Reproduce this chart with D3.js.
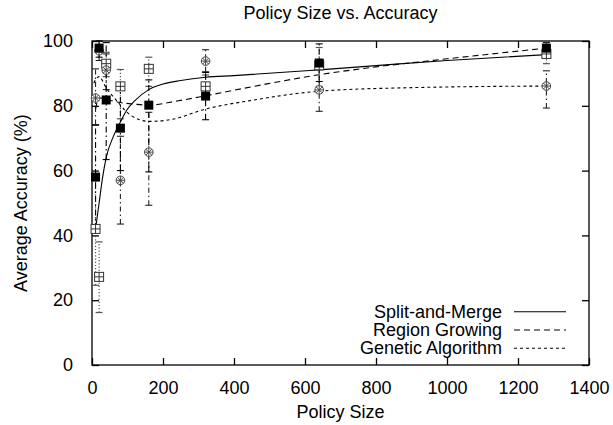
<!DOCTYPE html>
<html><head><meta charset="utf-8">
<script src="https://cdn.jsdelivr.net/npm/d3@7"></script>
<style>
html,body{margin:0;padding:0;background:#fff;}
text{font-family:"Liberation Sans",Arial,Helvetica,sans-serif;fill:#000;}
</style></head>
<body>
<svg id="chart" width="613" height="425"></svg>
<script>
// ---------- data ----------
const title = "Policy Size vs. Accuracy";
const xLabel = "Policy Size";
const yLabel = "Average Accuracy (%)";
const xTicks = [0, 200, 400, 600, 800, 1000, 1200, 1400];
const yTicks = [0, 20, 40, 60, 80, 100];
const policySizes = [10, 20, 40, 80, 160, 320, 640, 1280];

const seriesNames = ["Split-and-Merge", "Region Growing", "Genetic Algorithm"];

// Split-and-Merge
const smValues = [58, 97.8, 81.8, 73.1, 80.2, 83, 93.2, 97.8];
const smLow    = [42, 95, 63.4, 60, 59.6, 75.7, 87.5, 96];
const smHigh   = [74, 100, 99.5, 86, 88, 90.3, 99.1, 99.5];
// Region Growing
const rgValues = [42, 27.2, 93, 86, 91.4, 86, 92.5, 96];
const rgLow    = [24.6, 16.2, 89, 76, 86, 82, 86, 93];
const rgHigh   = [59, 38, 96.5, 91.2, 95, 89.5, 98, 98.5];
// Genetic Algorithm
const gaValues = [82.4, 97, 91, 57, 65.7, 93.8, 84.9, 86.1];
const gaLow    = [74.2, 94, 85, 43.5, 49.3, 90.5, 78.3, 79.3];
const gaHigh   = [91.4, 100, 96, 70.6, 78, 97.3, 91.2, 90.8];

// smoothed trend curves
const smCurveX = [10, 20, 30, 40, 60, 80, 100, 120, 160, 200, 250, 320, 400, 640, 800, 1000, 1280];
const smCurveY = [42, 50, 58, 64, 70.5, 75, 79, 81.5, 85, 86.7, 87.8, 88.8, 89.3, 91.1, 92.4, 94, 95.8];
const rgCurveX = [10, 20, 40, 80, 120, 160, 240, 320, 480, 640, 800, 1000, 1280];
const rgCurveY = [79, 82.5, 82, 81, 80.5, 80.2, 81.5, 83.1, 86.5, 89.6, 92, 94.5, 97.8];
const gaCurveX = [5, 20, 40, 70, 110, 160, 220, 320, 445, 640, 900, 1280];
const gaCurveY = [87, 89, 85.5, 81.5, 77, 75.2, 75.7, 79, 81.6, 84.5, 85.6, 86.1];

// ---------- layout ----------
const svg = d3.select("#chart");
const L = 92, R = 589, T = 41, B = 365;
const x = d3.scaleLinear().domain([0, 1400]).range([L, R]);
const y = d3.scaleLinear().domain([0, 100]).range([B, T]);
const FONT = 18;

// title and labels
svg.append("text").attr("x", (L + R) / 2).attr("y", 19).attr("text-anchor", "middle")
  .style("font-size", "18px").text(title);
svg.append("text").attr("x", (L + R) / 2).attr("y", 418).attr("text-anchor", "middle")
  .style("font-size", FONT + "px").text(xLabel);
svg.append("text").attr("transform", `translate(27,${(T + B) / 2}) rotate(-90)`)
  .attr("text-anchor", "middle").style("font-size", FONT + "px").text(yLabel);

// axes (inward ticks, mirrored)
const tickLen = 7;
const fmt = d3.format("d");
const gx = svg.append("g").attr("transform", `translate(0,${B})`)
  .call(d3.axisBottom(x).tickValues(xTicks).tickFormat(fmt).tickSizeInner(-tickLen).tickSizeOuter(0).tickPadding(16));
const gxt = svg.append("g").attr("transform", `translate(0,${T})`)
  .call(d3.axisTop(x).tickValues(xTicks).tickSizeInner(-tickLen).tickSizeOuter(0).tickFormat(""));
const gy = svg.append("g").attr("transform", `translate(${L},0)`)
  .call(d3.axisLeft(y).tickValues(yTicks).tickFormat(fmt).tickSizeInner(-tickLen).tickSizeOuter(0).tickPadding(19));
const gyr = svg.append("g").attr("transform", `translate(${R},0)`)
  .call(d3.axisRight(y).tickValues(yTicks).tickSizeInner(-tickLen).tickSizeOuter(0).tickFormat(""));
[gx, gxt, gy, gyr].forEach(g => {
  g.select(".domain").remove();
  g.selectAll("line").attr("stroke", "#000").attr("stroke-width", 1.3);
  g.selectAll("text").style("font-size", FONT + "px")
    .style("font-family", "'Liberation Sans',Arial,Helvetica,sans-serif").attr("fill", "#000");
});
svg.append("rect").attr("x", L).attr("y", T).attr("width", R - L).attr("height", B - T)
  .attr("fill", "none").attr("stroke", "#000").attr("stroke-width", 1.3);

const plot = svg.append("g");

// ---------- error bars ----------
function errorBars(vals, lo, hi, dash, color, width) {
  const g = plot.append("g");
  policySizes.forEach((p, i) => {
    const cx = x(p);
    g.append("line").attr("x1", cx).attr("x2", cx).attr("y1", y(lo[i])).attr("y2", y(hi[i]))
      .attr("stroke", color).attr("stroke-width", width).attr("stroke-dasharray", dash);
    [lo[i], hi[i]].forEach(v => {
      g.append("line").attr("x1", cx - 3.5).attr("x2", cx + 3.5).attr("y1", y(v)).attr("y2", y(v))
        .attr("stroke", color).attr("stroke-width", width);
    });
  });
}
errorBars(rgValues, rgLow, rgHigh, "1.2,2", "#555", 1.2);
errorBars(gaValues, gaLow, gaHigh, "5,3,1.5,3", "#222", 1.1);
errorBars(smValues, smLow, smHigh, "6,3,1.5,3", "#000", 1.1);

// ---------- curves ----------
const line = d3.line().x(d => x(d[0])).y(d => y(d[1])).curve(d3.curveMonotoneX);
const curves = [
  {xs: smCurveX, ys: smCurveY, dash: null},
  {xs: rgCurveX, ys: rgCurveY, dash: "6,4"},
  {xs: gaCurveX, ys: gaCurveY, dash: "3,3"}
];
curves.forEach(c => {
  plot.append("path").datum(c.xs.map((v, i) => [v, c.ys[i]]))
    .attr("d", line).attr("fill", "none").attr("stroke", "#000").attr("stroke-width", 1.1)
    .attr("stroke-dasharray", c.dash);
});

// ---------- markers ----------
const S = 4.5;
// Region Growing: box with plus
policySizes.forEach((p, i) => {
  const cx = x(p), cy = y(rgValues[i]);
  const g = plot.append("g").attr("stroke", "#333").attr("stroke-width", 1).attr("fill", "#fff");
  g.append("rect").attr("x", cx - S).attr("y", cy - S).attr("width", 2 * S).attr("height", 2 * S);
  g.append("line").attr("x1", cx - S).attr("x2", cx + S).attr("y1", cy).attr("y2", cy);
  g.append("line").attr("x1", cx).attr("x2", cx).attr("y1", cy - S).attr("y2", cy + S);
});
// Genetic Algorithm: circle with asterisk
policySizes.forEach((p, i) => {
  const cx = x(p), cy = y(gaValues[i]);
  const g = plot.append("g").attr("stroke", "#444").attr("stroke-width", 1).attr("fill", "#fff");
  g.append("circle").attr("cx", cx).attr("cy", cy).attr("r", 4.3);
  [0, 45, 90, 135].forEach(a => {
    const r = 4.3, ang = a * Math.PI / 180;
    g.append("line").attr("x1", cx - r * Math.cos(ang)).attr("x2", cx + r * Math.cos(ang))
      .attr("y1", cy - r * Math.sin(ang)).attr("y2", cy + r * Math.sin(ang));
  });
});
// Split-and-Merge: filled square
policySizes.forEach((p, i) => {
  const cx = x(p), cy = y(smValues[i]);
  plot.append("rect").attr("x", cx - S).attr("y", cy - S).attr("width", 2 * S).attr("height", 2 * S)
    .attr("fill", "#000");
});

// ---------- legend ----------
const legDash = [null, "6,4", "3,3"];
const legY = [311.7, 330, 348.3];
seriesNames.forEach((name, i) => {
  svg.append("text").attr("x", 502).attr("y", legY[i] + 6).attr("text-anchor", "end")
    .style("font-size", FONT + "px").text(name);
  svg.append("line").attr("x1", 514).attr("x2", 566).attr("y1", legY[i]).attr("y2", legY[i])
    .attr("stroke", "#000").attr("stroke-width", 1.1).attr("stroke-dasharray", legDash[i]);
});
</script>
</body></html>
